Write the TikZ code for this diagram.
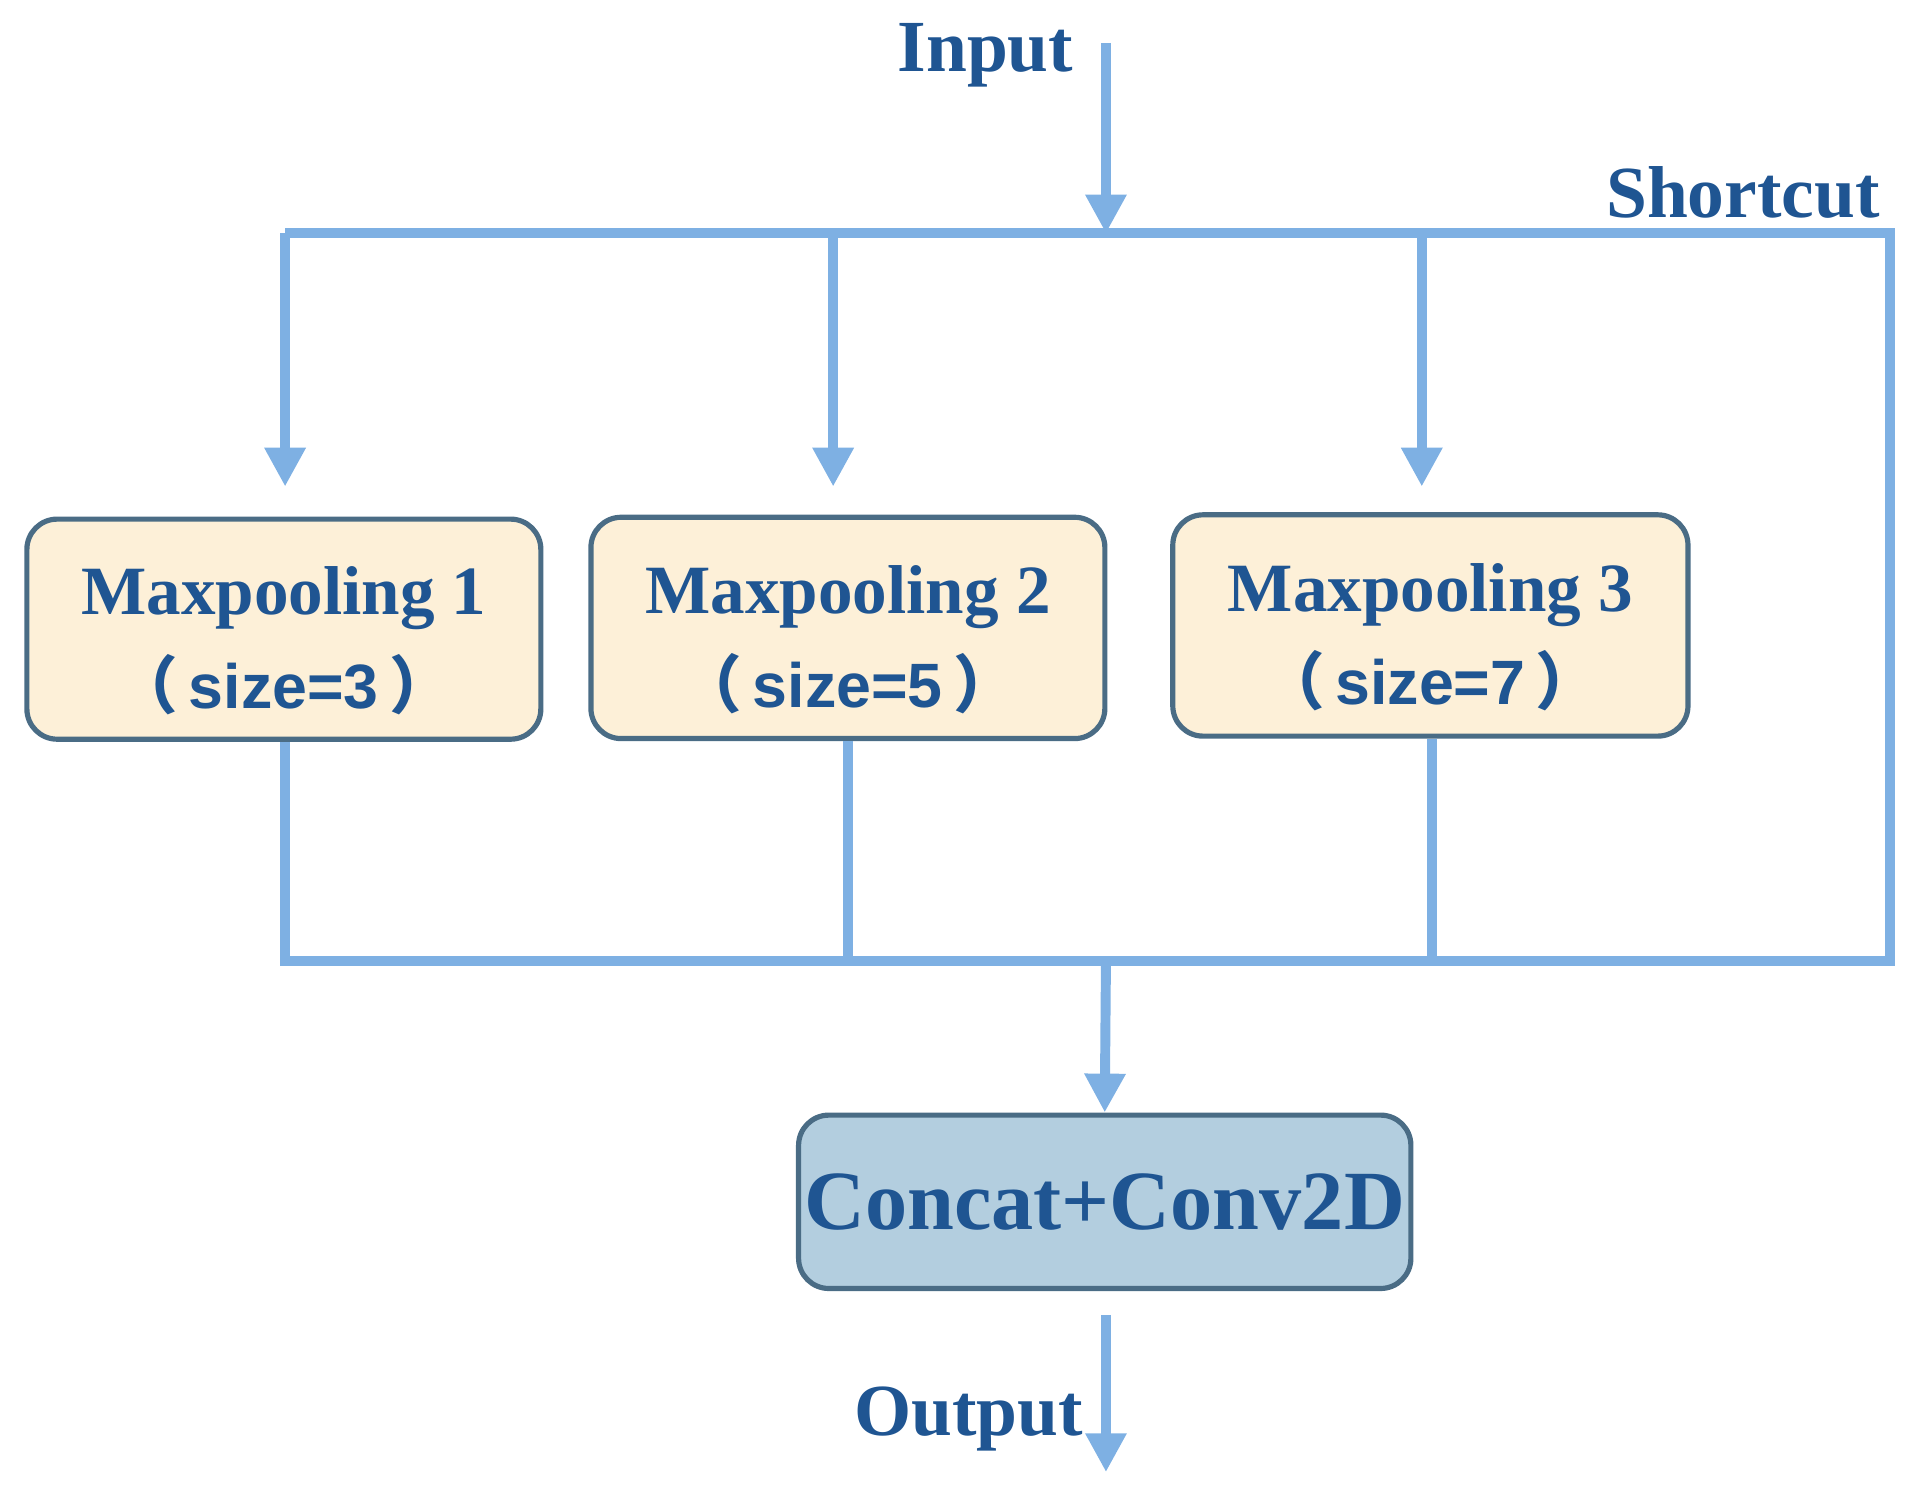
\documentclass[tikz,border=0pt]{standalone}
\usepackage{fontspec}
\setmainfont{Liberation Serif}
\setsansfont{Liberation Sans}
\newfontfamily\cjk{Noto Sans CJK SC}
\usetikzlibrary{arrows.meta}
\definecolor{txt}{HTML}{1F5592}
\definecolor{ln}{HTML}{7EB0E3}
\definecolor{bd}{HTML}{4A6C85}
\definecolor{yf}{HTML}{FDF0D8}
\definecolor{bf}{HTML}{B3CEDF}
\begin{document}
\begin{tikzpicture}[x=0.01cm,y=-0.01cm,
  wire/.style={draw=ln,line width=2.3pt},
  arr/.style={wire,-{Triangle[length=9pt,width=9pt]}},
  box/.style={draw=bd,line width=1.2pt,rounded corners=7pt,fill=yf},
  lbl/.style={text=txt,font=\bfseries\fontsize{17}{20}\selectfont}]
\useasboundingbox (0,0) rectangle (1560,1210);
% boxes
\node[box,minimum width=4.18cm,minimum height=1.79cm] (m1) at (231,512) {};
\node[box,minimum width=4.18cm,minimum height=1.80cm] (m2) at (690,511) {};
\node[box,minimum width=4.19cm,minimum height=1.80cm] (m3) at (1164,509) {};
\node[box,fill=bf,minimum width=4.98cm,minimum height=1.41cm] (cc) at (899,978) {};
\foreach \n/\k/\s in {m1/1/3,m2/2/5,m3/3/7}{
  \node[text=txt,font=\bfseries\fontsize{16}{19}\selectfont,yshift=0.25cm] (\n t) at (\n) {Maxpooling \k};
  \node[text=txt,font=\bfseries\sffamily\fontsize{14.5}{17}\selectfont,yshift=-0.45cm] (\n s) at (\n) {{\cjk （\,}size=\s{\cjk \,）}};
}
\node[text=txt,font=\bfseries\fontsize{19.5}{23}\selectfont] (cct) at (cc) {Concat+Conv2D};
\node[lbl] (in) at (802,45) {Input};
\node[lbl,anchor=east] (sc) at (1542,157) {Shortcut};
\node[lbl] (out) at (788,1155) {Output};
% coordinates
\coordinate (i0) at (900,35); \coordinate (i1) at (900,190);
\coordinate (tl) at (232,190); \coordinate (tr) at (1538,190);
\coordinate (b1) at (232,782); \coordinate (br) at (1538,782);
\coordinate (t2) at (678,190); \coordinate (t3) at (1157,190);
\coordinate (a1) at (232,396); \coordinate (a2) at (678,396); \coordinate (a3) at (1157,396);
\coordinate (u2) at (690,782); \coordinate (u3) at (1165,782);
\coordinate (bc) at (900,782);
\coordinate (o0) at (900,1070); \coordinate (o1) at (900,1198);
% wires
\draw[arr] (i0) -- (i1);
\draw[wire] (tl) -- (tr) -- (br) -- (b1) -- (m1.south -| b1);
\draw[arr] (tl) -- (a1);
\draw[arr] (t2) -- (a2);
\draw[arr] (t3) -- (a3);
\draw[wire] (m2.south -| u2) -- (u2);
\draw[wire] (m3.south -| u3) -- (u3);
\draw[arr] (bc) -- (cc.north);
\draw[arr] (o0) -- (o1);
\end{tikzpicture}
\end{document}
